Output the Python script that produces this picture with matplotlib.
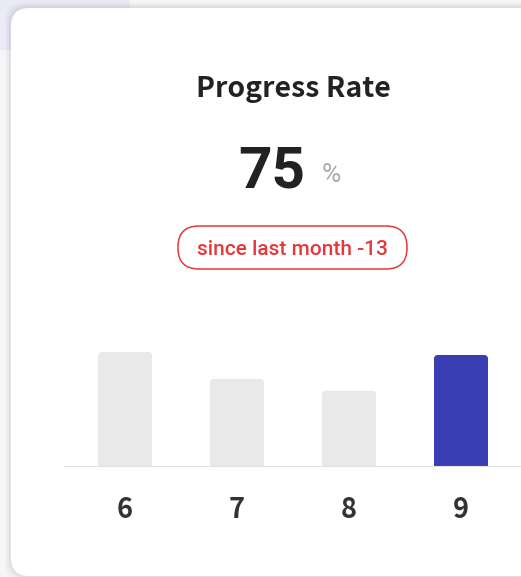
import numpy as np
import matplotlib.pyplot as plt
from matplotlib.patches import FancyBboxPatch, Rectangle

# data
months = ['6', '7', '8', '9']
rates = [77, 59, 51, 75]
current_rate = 75
change_text = 'since last month -13'
title = 'Progress Rate'

W, H = 521, 577
DPI = 100


def inch(x, y):
    # pixel coords (top-left origin) -> inches from bottom-left
    return x / DPI, (H - y) / DPI


def main():
    fig = plt.figure(figsize=(W / DPI, H / DPI), dpi=DPI)
    fig.patch.set_facecolor('#f6f6f8')
    tr = fig.dpi_scale_trans

    # page background bits behind the card
    fig.add_artist(Rectangle(inch(0, 50), 1.3, 0.5, transform=tr,
                             facecolor='#ebebf8', edgecolor='none'))

    # card with a soft shadow
    for grow, alpha in [(6, 0.02), (4, 0.03), (2, 0.04)]:
        x0, y0 = inch(11 - grow, 576 + grow)
        fig.add_artist(FancyBboxPatch((x0, y0), 6.0, (568 + 2 * grow) / DPI,
                                      boxstyle='round,pad=0,rounding_size=0.2',
                                      transform=tr, facecolor='black',
                                      edgecolor='none', alpha=alpha))
    x0, y0 = inch(11, 576)
    fig.add_artist(FancyBboxPatch((x0, y0), 6.0, 568 / DPI,
                                  boxstyle='round,pad=0,rounding_size=0.18',
                                  transform=tr, facecolor='white',
                                  edgecolor='none'))

    # headline texts
    fig.text(*inch(293, 97), title, transform=tr, ha='center', va='baseline',
             fontsize=20.5, fontweight='bold', color='#222222',
             family=['Noto Sans CJK KR', 'DejaVu Sans'])
    fig.text(*inch(305, 187), str(current_rate), transform=tr, ha='right',
             va='baseline', fontsize=42, fontweight='bold', color='#222222',
             family='Roboto')
    fig.text(*inch(322, 182), '%', transform=tr, ha='left', va='baseline',
             fontsize=19, color='#aaaaaa', family='Roboto')

    # pill with the change
    x0, y0 = inch(178, 269)
    fig.add_artist(FancyBboxPatch((x0, y0), (407 - 178) / DPI, (269 - 226) / DPI,
                                  boxstyle='round,pad=0,rounding_size=0.21',
                                  transform=tr, facecolor='white',
                                  edgecolor='#e5383b', linewidth=1.1))
    fig.text(*inch(292.5, 255), change_text, transform=tr, ha='center',
             va='baseline', fontsize=15, fontweight='medium', color='#e5383b',
             family='Roboto')

    # bar chart
    base_y = 467
    top_y = 330
    ax = fig.add_axes([64 / W, (H - base_y) / H, (W - 64) / W, (base_y - top_y) / H])
    ax.set_zorder(5)
    ax.set_facecolor('none')
    px_per_x = 112
    px_per_y = 115 / rates[0]
    ax.set_xlim(-(125 - 64) / px_per_x, 3 + (W - 461) / px_per_x)
    ax.set_ylim(0, (base_y - top_y) / px_per_y)

    bar_w = 54 / px_per_x
    r = 4 / px_per_x
    aspect = px_per_x / px_per_y
    colors = ['#e9e9e9'] * (len(months) - 1) + ['#3a3eb3']
    for i, (val, c) in enumerate(zip(rates, colors)):
        ax.add_patch(FancyBboxPatch((i - bar_w / 2, -5), bar_w, val + 5,
                                    boxstyle=f'round,pad=0,rounding_size={r}',
                                    mutation_aspect=aspect,
                                    facecolor=c, edgecolor='none'))
    ax.axhline(0, color='#e2e2e2', linewidth=1.5)

    for s in ax.spines.values():
        s.set_visible(False)
    ax.set_yticks([])
    ax.set_xticks(range(len(months)))
    ax.set_xticklabels(months, fontsize=19.5, fontweight='bold', color='#333333',
                       family=['Noto Sans CJK KR', 'DejaVu Sans'])
    ax.tick_params(axis='x', length=0, pad=21)

    fig.savefig('out.png', dpi=DPI, facecolor=fig.get_facecolor())


if __name__ == "__main__":
    main()
